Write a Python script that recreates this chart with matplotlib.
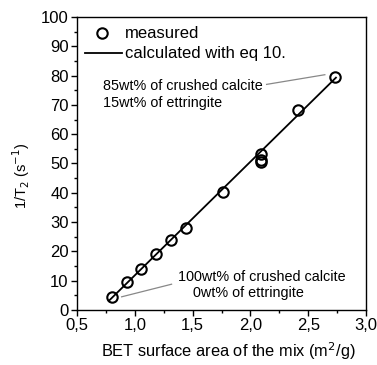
import matplotlib
matplotlib.use("Agg")
import matplotlib.pyplot as plt
from matplotlib.ticker import MultipleLocator, FixedLocator, FixedFormatter
from matplotlib.lines import Line2D

plt.rcParams['font.family'] = ['Liberation Sans', 'DejaVu Sans']

# measured relaxation rates vs BET surface area
bet_measured = [0.80, 0.93, 1.055, 1.185, 1.31, 1.44, 1.765, 2.09, 2.09, 2.09, 2.415, 2.735]
rate_measured = [4.3, 9.4, 13.9, 19.2, 23.8, 28.0, 40.3, 53.2, 51.3, 50.6, 68.2, 79.6]

# values from eq 10
bet_calc = [0.78, 2.74]
rate_calc = [3.3, 79.3]

xticks = [0.5, 1.0, 1.5, 2.0, 2.5, 3.0]
xticklabels = ["0,5", "1,0", "1,5", "2,0", "2,5", "3,0"]
yticks = [0, 10, 20, 30, 40, 50, 60, 70, 80, 90, 100]

fig = plt.figure(figsize=(3.77, 3.65), dpi=100)
ax = fig.add_axes([77/377, 1 - 310/365, (366 - 77)/377, (310 - 17)/365])

ax.plot(bet_calc, rate_calc, color='black', lw=1.3, zorder=2)
ax.plot(bet_measured, rate_measured, linestyle='none', marker='o', ms=7.5,
        mfc='none', mec='black', mew=1.5, zorder=3)

ax.set_xlim(0.5, 3.0)
ax.set_ylim(0, 100)
ax.xaxis.set_major_locator(FixedLocator(xticks))
ax.xaxis.set_major_formatter(FixedFormatter(xticklabels))
ax.xaxis.set_minor_locator(MultipleLocator(0.25))
ax.yaxis.set_major_locator(FixedLocator(yticks))
ax.yaxis.set_minor_locator(MultipleLocator(5))
ax.tick_params(which='both', direction='out', top=False, right=False,
               labelsize=12, width=1.0, pad=2)
ax.tick_params(which='major', length=4)
ax.tick_params(which='minor', length=2.5)
for s in ax.spines.values():
    s.set_linewidth(1.0)

fig.text(228/377, 3/365, "BET surface area of the mix (m$^2$/g)", fontsize=11.8,
         ha='center', va='bottom')
fig.text(21/377, 1 - 176/365, "1/T$_2$ (s$^{-1}$)", fontsize=10.5,
         rotation=90, ha='center', va='center')

# legend drawn manually
ax.plot([0.0865], [0.945], transform=ax.transAxes, marker='o', ms=7.5, mfc='none',
        mec='black', mew=1.5, clip_on=False)
ax.add_line(Line2D([0.028, 0.156], [0.877, 0.877], transform=ax.transAxes,
                   color='black', lw=1.3))
ax.text(0.166, 0.945, "measured", transform=ax.transAxes, fontsize=12, va='center')
ax.text(0.166, 0.877, "calculated with eq 10.", transform=ax.transAxes, fontsize=12, va='center')

# annotations
ax.text(0.722, 76.3, "85wt% of crushed calcite", fontsize=10.4, va='center')
ax.text(0.722, 70.6, "15wt% of ettringite", fontsize=10.4, va='center')
ax.plot([2.14, 2.644], [77.0, 80.3], color='#888888', lw=0.9)

ax.text(1.375, 11.4, "100wt% of crushed calcite", fontsize=10.4, va='center')
ax.text(1.506, 5.7, "0wt% of ettringite", fontsize=10.4, va='center')
ax.plot([0.886, 1.318], [4.5, 8.8], color='#888888', lw=0.9)

fig.savefig("out.png", dpi=100)
